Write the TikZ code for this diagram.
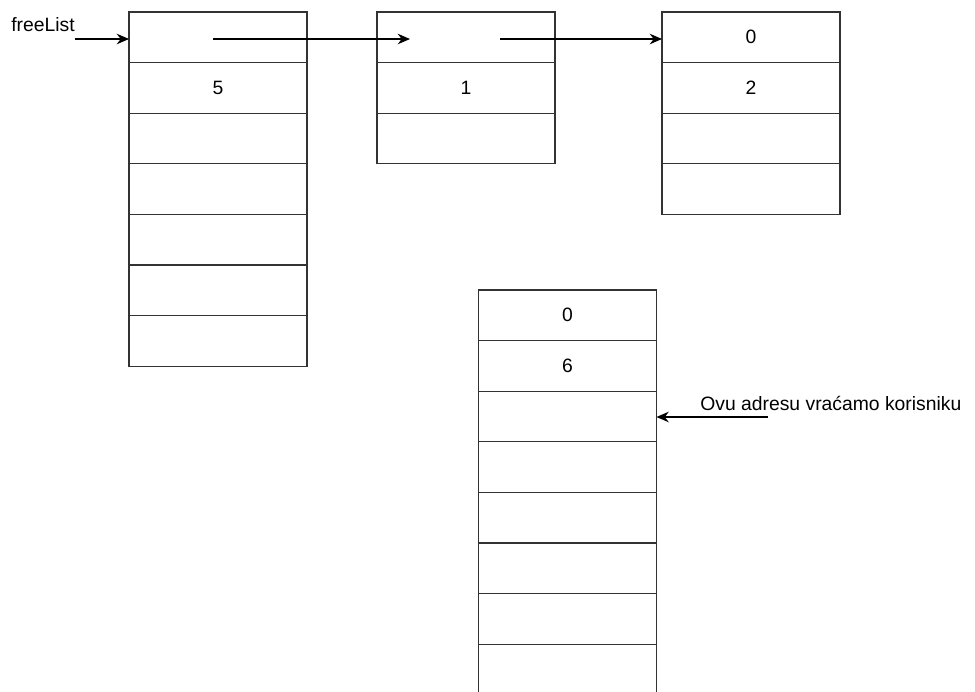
\documentclass[tikz,border=0pt]{standalone}
\usepackage{fontspec}
\setmainfont{Liberation Sans}
\usetikzlibrary{arrows.meta,positioning}

\begin{document}
\begin{tikzpicture}[x=0.02cm,y=-0.02cm,
  cell/.style={draw=black!80,line width=0.7pt,minimum width=3.56cm,
    minimum height=1.012cm,inner sep=0pt,outer sep=0pt,
    font=\fontsize{11}{13}\selectfont},
  ptr/.style={-{Stealth[length=7pt,width=6pt]},line width=0.7pt},
  lbl/.style={anchor=west,inner sep=0pt,font=\fontsize{11}{13}\selectfont}]
\clip (0,0) rectangle (975,691);
%%%%%%%%%%%%%%%%%%%%%%%%%%%%%%%%
%% first block (7 cells)
%%%%%%%%%%%%%%%%%%%%%%%%%%%%%%%%
\node[cell] (a1) at (218,37.3) {};
\node[cell,below=0pt of a1] (a2) {5};
\node[cell,below=0pt of a2] (a3) {};
\node[cell,below=0pt of a3] (a4) {};
\node[cell,below=0pt of a4] (a5) {};
\node[cell,below=0pt of a5] (a6) {};
\node[cell,below=0pt of a6] (a7) {};
%%%%%%%%%%%%%%%%%%%%%%%%%%%%%%%%
%% second block (3 cells)
%%%%%%%%%%%%%%%%%%%%%%%%%%%%%%%%
\node[cell] (b1) at (466,37.3) {};
\node[cell,below=0pt of b1] (b2) {1};
\node[cell,below=0pt of b2] (b3) {};
%%%%%%%%%%%%%%%%%%%%%%%%%%%%%%%%
%% third block (4 cells)
%%%%%%%%%%%%%%%%%%%%%%%%%%%%%%%%
\node[cell] (c1) at (751,37.3) {0};
\node[cell,below=0pt of c1] (c2) {2};
\node[cell,below=0pt of c2] (c3) {};
\node[cell,below=0pt of c3] (c4) {};
%%%%%%%%%%%%%%%%%%%%%%%%%%%%%%%%
%% returned block (8 cells)
%%%%%%%%%%%%%%%%%%%%%%%%%%%%%%%%
\node[cell] (d1) at (567.5,315.3) {0};
\node[cell,below=0pt of d1] (d2) {6};
\node[cell,below=0pt of d2] (d3) {};
\node[cell,below=0pt of d3] (d4) {};
\node[cell,below=0pt of d4] (d5) {};
\node[cell,below=0pt of d5] (d6) {};
\node[cell,below=0pt of d6] (d7) {};
\node[cell,below=0pt of d7] (d8) {};
%
% pointers
\node[lbl] (free) at (11,25) {freeList};
\coordinate (fl) at (75,39);
\draw[ptr] (fl) -- (fl -| a1.west);

\coordinate (p1) at (213,39);
\coordinate (q1) at (410,39);
\draw[ptr] (p1) -- (q1);

\coordinate (p2) at (500,39);
\draw[ptr] (p2) -- (p2 -| c1.west);

\node[lbl] (ret) at (700,403) {Ovu adresu vraćamo korisniku};
\coordinate (r1) at (768,417);
\draw[ptr] (r1) -- (r1 -| d3.east);
\end{tikzpicture}
\end{document}
